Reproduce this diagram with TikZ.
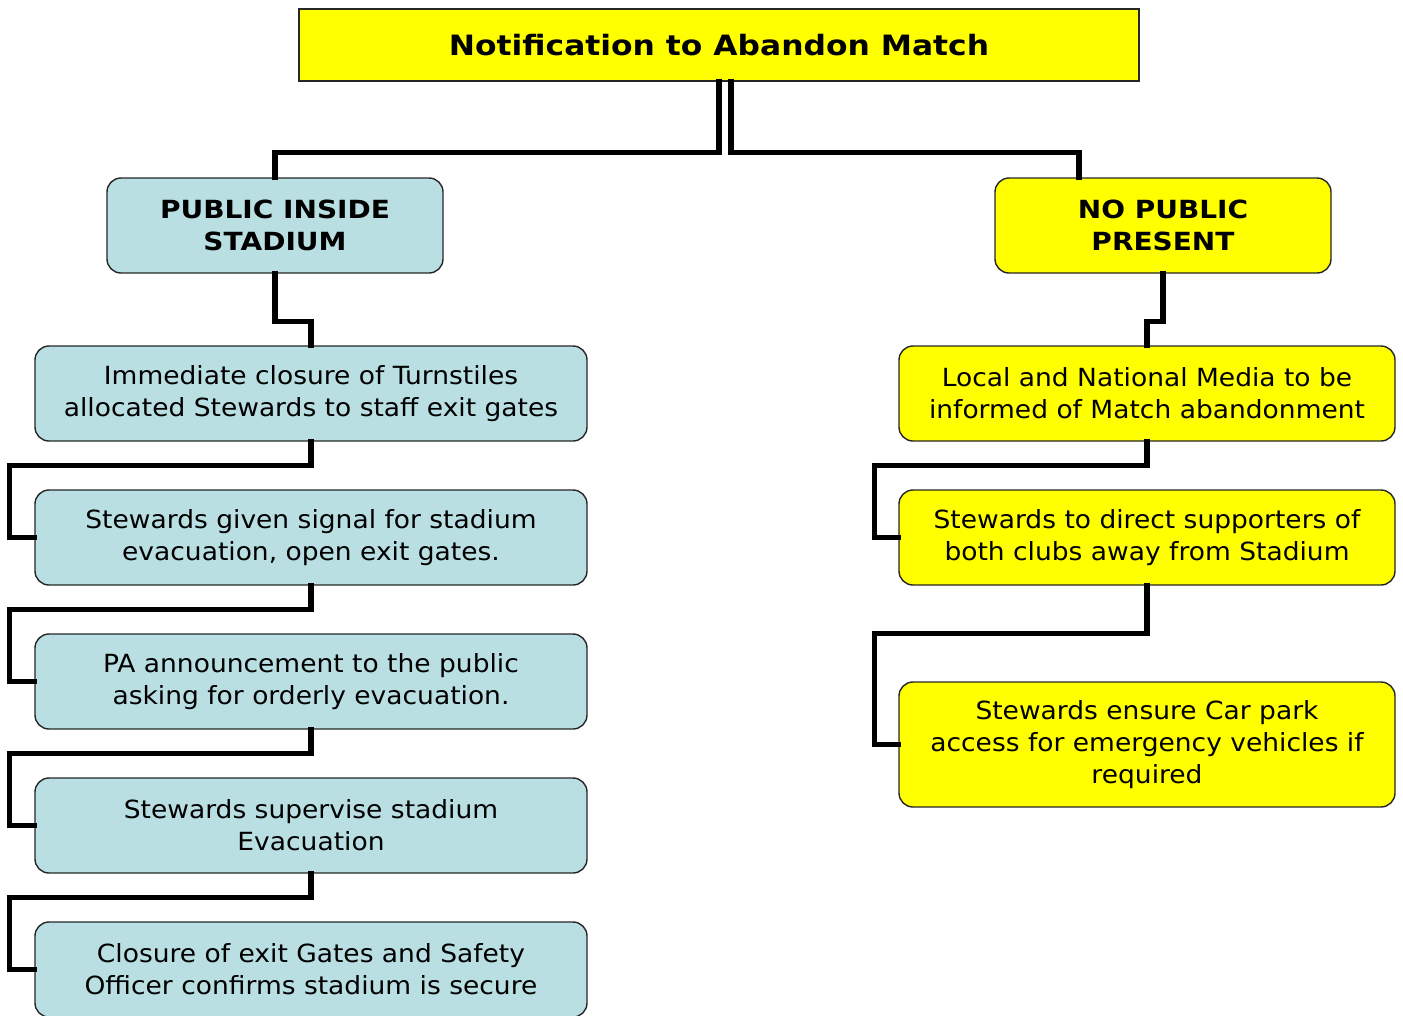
\documentclass[tikz,border=0pt]{standalone}
\usepackage{fontspec}
\setmainfont{DejaVu Sans}[FakeStretch=1.06, BoldFeatures={FakeStretch=1.12}]
\definecolor{lblue}{RGB}{185,223,227}
\definecolor{yel}{RGB}{255,255,0}
\begin{document}
\begin{tikzpicture}[x=1pt,y=-1pt,
  box/.style={draw=black!85, line width=1.4pt, rounded corners=14pt, align=center, inner sep=0pt,
    font=\fontsize{25}{32}\selectfont, execute at begin node={\vspace*{6pt}}},
  bluebox/.style={box, fill=lblue},
  yelbox/.style={box, fill=yel},
  head/.style={font=\bfseries\fontsize{25}{32}\selectfont},
  conn/.style={line width=5.5pt, line cap=rect}]
\useasboundingbox (0,0) rectangle (1403,1015);
% top
\node[draw=black!85, line width=1.4pt, fill=yel, minimum width=840pt, minimum height=72pt,
  font=\bfseries\fontsize{28}{32}\selectfont] (title) at (719,45) {\raisebox{-2pt}{Notification to Abandon Match}};
\node[bluebox, head, minimum width=336pt, minimum height=95pt] (pub) at (275,225.5) {PUBLIC INSIDE\\STADIUM};
\node[yelbox, head, minimum width=336pt, minimum height=95pt] (nop) at (1163,225.5) {NO PUBLIC\\PRESENT};
% left column
\node[bluebox, minimum width=552pt, minimum height=95pt] (l1) at (311,393.5) {Immediate closure of Turnstiles\\allocated Stewards to staff exit gates};
\node[bluebox, minimum width=552pt, minimum height=95pt] (l2) at (311,537.5) {Stewards given signal for stadium\\evacuation, open exit gates.};
\node[bluebox, minimum width=552pt, minimum height=95pt] (l3) at (311,681.5) {PA announcement to the public\\asking for orderly evacuation.};
\node[bluebox, minimum width=552pt, minimum height=95pt] (l4) at (311,825.5) {Stewards supervise stadium\\Evacuation};
\node[bluebox, minimum width=552pt, minimum height=95pt] (l5) at (311,969.5) {Closure of exit Gates and Safety\\Officer confirms stadium is secure};
% right column
\node[yelbox, minimum width=496pt, minimum height=95pt] (r1) at (1147,393.5) {Local and National Media to be\\informed of Match abandonment};
\node[yelbox, minimum width=496pt, minimum height=95pt] (r2) at (1147,537.5) {Stewards to direct supporters of\\both clubs away from Stadium};
\node[yelbox, minimum width=496pt, minimum height=125pt] (r3) at (1147,744.5) {Stewards ensure Car park\\access for emergency vehicles if\\required};
% connectors
\begin{scope}[conn]
\draw (title.south) -- ++(0,71) -| (pub.north);
\draw ([xshift=12pt]title.south) -- ++(0,71) -| ([xshift=-84pt]nop.north);
\draw (pub.south) -- ++(0,48) -| (l1.north);
\draw (l1.south) -- ++(0,24) -| ([xshift=-25pt]l2.west) -- (l2.west);
\draw (l2.south) -- ++(0,24) -| ([xshift=-25pt]l3.west) -- (l3.west);
\draw (l3.south) -- ++(0,24) -| ([xshift=-25pt]l4.west) -- (l4.west);
\draw (l4.south) -- ++(0,24) -| ([xshift=-25pt]l5.west) -- (l5.west);
\draw (nop.south) -- ++(0,48) -| (r1.north);
\draw (r1.south) -- ++(0,24) -| ([xshift=-24pt]r2.west) -- (r2.west);
\draw (r2.south) -- ++(0,48) -| ([xshift=-24pt]r3.west) -- (r3.west);
\end{scope}
\end{tikzpicture}
\end{document}
